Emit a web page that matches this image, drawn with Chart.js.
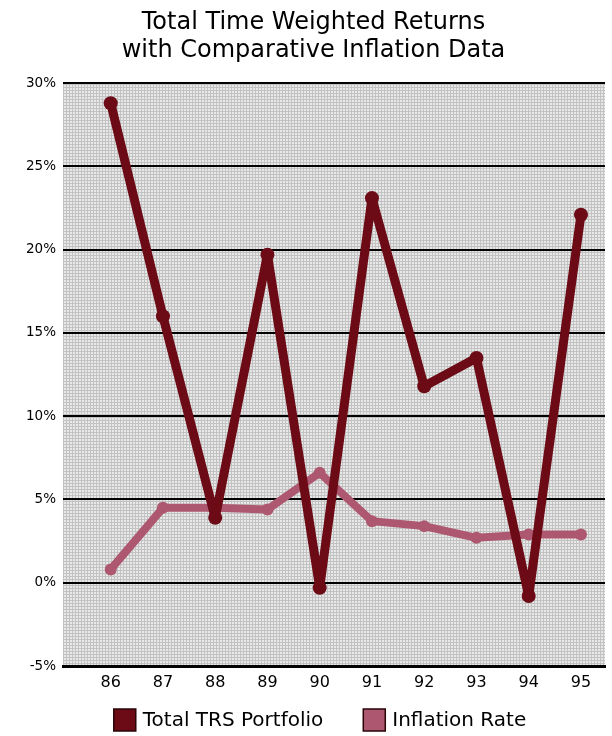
<!DOCTYPE html>
<html>
<head>
<meta charset="utf-8">
<title>Total Time Weighted Returns</title>
<script src="https://cdn.jsdelivr.net/npm/chart.js@4/dist/chart.umd.min.js"></script>
<style>
  html, body { margin: 0; padding: 0; background: #ffffff; }
  canvas { display: block; }
</style>
</head>
<body>
<canvas id="chart" width="612" height="736"></canvas>
<script>
// Fiscal years on the horizontal axis
const years = ['86', '87', '88', '89', '90', '91', '92', '93', '94', '95'];
// Total TRS Portfolio return, percent per year
const trsReturns = [28.8, 16.0, 3.9, 19.7, -0.3, 23.1, 11.8, 13.5, -0.8, 22.1];
// Inflation rate, percent per year
const inflationRate = [0.8, 4.5, 4.5, 4.4, 6.6, 3.7, 3.4, 2.7, 2.9, 2.9];
// Vertical axis ticks, percent
const percentTicks = [-5, 0, 5, 10, 15, 20, 25, 30];

const TRS_COLOR = '#6c0a16';
const INFLATION_COLOR = '#ad5870';
const FONT = "'DejaVu Sans', sans-serif";

Chart.defaults.font.family = FONT;
Chart.defaults.color = '#000000';

// Fine halftone-like texture for the plotting area
function makeTexture(ctx) {
  const c = document.createElement('canvas');
  c.width = 3; c.height = 3;
  const g = c.getContext('2d');
  g.fillStyle = '#c2c2c2';
  g.fillRect(0, 0, 3, 3);
  g.fillStyle = '#e8e8e8';
  g.fillRect(1, 1, 2, 2);
  return ctx.createPattern(c, 'repeat');
}

const plotBackground = {
  id: 'plotBackground',
  beforeDraw(chart) {
    const { ctx, chartArea: a } = chart;
    ctx.save();
    ctx.fillStyle = makeTexture(ctx);
    ctx.fillRect(a.left, a.top, a.right - a.left, a.bottom - a.top);
    ctx.restore();
  }
};

// Legend row under the axis: square swatches followed by the series names
const swatchLegend = {
  id: 'swatchLegend',
  afterDraw(chart, args, opts) {
    const { ctx } = chart;
    const box = opts.boxSize, gap = opts.textGap, spacing = opts.itemSpacing;
    ctx.save();
    ctx.font = opts.fontSize + 'px ' + FONT;
    ctx.textBaseline = 'middle';
    ctx.textAlign = 'left';
    const items = chart.data.datasets.map(ds => ({
      text: ds.label,
      color: ds.backgroundColor,
      width: box + gap + ctx.measureText(ds.label).width
    }));
    const total = items.reduce((s, it) => s + it.width, 0) + spacing * (items.length - 1);
    let x = opts.centerX - total / 2;
    const y = opts.top;
    items.forEach(it => {
      ctx.fillStyle = it.color;
      ctx.fillRect(x, y, box, box);
      ctx.lineWidth = 1.5;
      ctx.strokeStyle = '#2a0508';
      ctx.strokeRect(x, y, box, box);
      ctx.fillStyle = '#000000';
      ctx.fillText(it.text, x + box + gap, y + box / 2 + 1);
      x += it.width + spacing;
    });
    ctx.restore();
  }
};

const toPoints = values => values.map((v, i) => ({ x: i, y: v }));

new Chart(document.getElementById('chart'), {
  type: 'line',
  data: {
    datasets: [
      {
        label: 'Total TRS Portfolio',
        data: toPoints(trsReturns),
        borderColor: TRS_COLOR,
        backgroundColor: TRS_COLOR,
        borderWidth: 9,
        pointRadius: 7,
        pointBorderWidth: 0,
        pointBackgroundColor: TRS_COLOR,
        borderJoinStyle: 'round',
        borderCapStyle: 'round',
        tension: 0
      },
      {
        label: 'Inflation Rate',
        data: toPoints(inflationRate),
        borderColor: INFLATION_COLOR,
        backgroundColor: INFLATION_COLOR,
        borderWidth: 8,
        pointRadius: 6,
        pointBorderWidth: 0,
        pointBackgroundColor: INFLATION_COLOR,
        borderJoinStyle: 'round',
        borderCapStyle: 'round',
        tension: 0
      }
    ]
  },
  options: {
    responsive: false,
    animation: false,
    devicePixelRatio: 1,
    layout: { padding: { left: 22, right: 7, top: 0, bottom: 40 } },
    plugins: {
      title: {
        display: true,
        text: ['Total Time Weighted Returns', 'with Comparative Inflation Data'],
        font: { size: 24, weight: 'normal', lineHeight: 1.15 },
        color: '#000000',
        padding: { top: 9, bottom: 19 }
      },
      legend: { display: false },
      tooltip: { enabled: false },
      swatchLegend: {
        boxSize: 22,
        textGap: 7,
        itemSpacing: 40,
        fontSize: 20,
        centerX: 320,
        top: 709
      }
    },
    scales: {
      x: {
        type: 'linear',
        min: -0.913,
        max: 9.46,
        afterFit(scale) { scale.height = 30; },
        afterBuildTicks(scale) { scale.ticks = years.map((_, i) => ({ value: i })); },
        grid: { display: false, drawTicks: false },
        border: { display: true, color: '#000000', width: 3 },
        ticks: {
          padding: 7,
          autoSkip: false,
          maxRotation: 0,
          font: { size: 16 },
          callback: (value, index) => years[index]
        }
      },
      y: {
        type: 'linear',
        min: -5,
        max: 30,
        afterFit(scale) { scale.width = 41; },
        afterBuildTicks(scale) { scale.ticks = percentTicks.map(v => ({ value: v })); },
        grid: { color: '#000000', lineWidth: 2, drawTicks: false },
        border: { display: false },
        ticks: {
          padding: 7,
          font: { size: 13.5 },
          callback: (value, index) => percentTicks[index] + '%'
        }
      }
    }
  },
  plugins: [plotBackground, swatchLegend]
});
</script>
</body>
</html>
